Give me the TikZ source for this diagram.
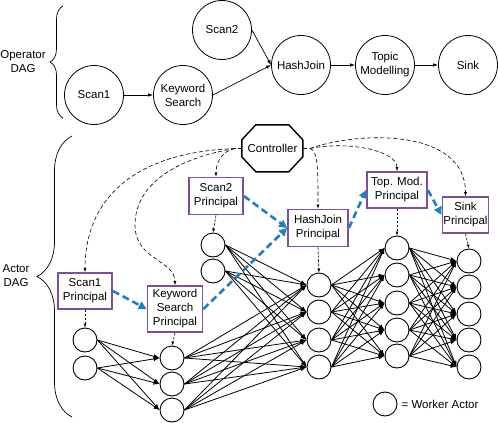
\documentclass[tikz,border=0pt]{standalone}
\usepackage{fontspec}
\setmainfont{Liberation Sans}
\usetikzlibrary{arrows.meta,decorations.pathreplacing,positioning}
\definecolor{principalpurple}{RGB}{128,80,150}
\definecolor{flowblue}{RGB}{28,128,196}
\tikzset{
  opnode/.style={draw, circle, line width=0.8pt, minimum size=59pt, inner sep=0pt, align=center},
  principal/.style={draw=principalpurple, line width=1.8pt, fill=white, align=center, inner sep=1pt},
  worker/.style={draw, circle, line width=0.9pt, minimum size=24pt, inner sep=0pt},
  opedge/.style={line width=0.7pt, -{Latex[length=5pt,width=3.5pt]}},
  wedge/.style={line width=0.8pt, -{Latex[length=6pt,width=4.5pt]}},
  ctrledge/.style={line width=0.6pt, dash pattern=on 4pt off 2.5pt, -{Latex[length=4pt,width=3pt]}},
  assign/.style={line width=0.6pt, dash pattern=on 2.5pt off 1.5pt, -{Latex[length=4pt,width=3pt]}},
  flow/.style={draw=flowblue, line width=2.6pt, dash pattern=on 7pt off 4pt, -{Triangle[length=8pt,width=8pt]}}
}

\begin{document}
\begin{tikzpicture}[x=1pt, y=-1pt, font=\fontsize{11.5}{14}\selectfont]
    \useasboundingbox (0,0) rectangle (498,423);
    \node [opnode] (scanA) at (94,95) {Scan1};
    \node [opnode] (kws) at (183,95) {Keyword\\Search};
    \node [opnode] (scanB) at (222,30) {Scan2};
    \node [opnode] (hj) at (301,65) {HashJoin};
    \node [opnode] (topic) at (385,65) {Topic\\Modelling};
    \node [opnode] (sink) at (468,65) {Sink};
    \draw [opedge] (scanA) -- (kws);
    \draw [opedge] (kws.east) -- (hj.west);
    \draw [opedge] (scanB.east) -- (hj.west);
    \draw [opedge] (hj) -- (topic);
    \draw [opedge] (topic) -- (sink);
    \draw [line width=0.7pt, decorate, decoration={brace, amplitude=13pt}] (63,118) -- (63,6);
    \draw [line width=0.7pt, decorate, decoration={brace, amplitude=35pt}] (72,417) -- (72,136);
    \node [align=center] (oplabel) at (23,62) {Operator\\DAG};
    \node [align=center] (aclabel) at (16,276) {Actor\\DAG};
    \node [minimum width=61pt, minimum height=47pt, inner sep=0pt] (ctrl) at (272.5,148.5) {Controller};
    \draw [line width=1.4pt] (ctrl.north west) ++(14,0) -- ++(33,0) -- ++(14,15) -- ++(0,17) -- ++(-14,15) -- ++(-33,0) -- ++(-14,-15) -- ++(0,-17) -- cycle;
    \coordinate (cw) at (235,148.5);
    \coordinate (ce) at (310,148.5);
    \coordinate (kwsbend) at (135,225);
    \draw [line width=0.6pt, dash pattern=on 4pt off 2.5pt] (ctrl.west) -- (cw);
    \draw [line width=0.6pt, dash pattern=on 4pt off 2.5pt] (ctrl.east) -- (ce);
    \foreach \y [count=\i] in {340,368}
        \node [worker] (wa\i) at (85,\y) {};
    \foreach \y [count=\i] in {358,384,410}
        \node [worker] (wk\i) at (172,\y) {};
    \foreach \y [count=\i] in {245,271}
        \node [worker] (wb\i) at (213,\y) {};
    \foreach \y [count=\i] in {285,312,340,367}
        \node [worker] (wh\i) at (319,\y) {};
    \foreach \y [count=\i] in {248,275,303,330,356}
        \node [worker] (wt\i) at (397,\y) {};
    \foreach \y [count=\i] in {261,287,314,340,367}
        \node [worker] (ws\i) at (469,\y) {};
    \foreach \i in {1,2}
        \foreach \j in {1,2,3}
            \draw [wedge] (wa\i.east) -- (wk\j.west);
    \foreach \i in {1,2,3}
        \foreach \j in {1,...,4}
            \draw [wedge] (wk\i.east) -- (wh\j.west);
    \foreach \i in {1,2}
        \foreach \j in {1,...,4}
            \draw [wedge] (wb\i.east) -- (wh\j.west);
    \foreach \i in {1,...,4}
        \foreach \j in {1,...,5}
            \draw [wedge] (wh\i.east) -- (wt\j.west);
    \foreach \i in {1,...,5}
        \foreach \j in {1,...,5}
            \draw [wedge] (wt\i.east) -- (ws\j.west);
    \node [principal, minimum width=54pt, minimum height=36pt] (pscanA) at (85,291) {Scan1\\Principal};
    \node [principal, minimum width=55pt, minimum height=46pt] (pkws) at (175,309) {Keyword\\Search\\Principal};
    \node [principal, minimum width=54pt, minimum height=37pt] (pscanB) at (216,196) {Scan2\\Principal};
    \node [principal, minimum width=60pt, minimum height=37pt] (phj) at (318,228) {HashJoin\\Principal};
    \node [principal, minimum width=60pt, minimum height=36pt] (ptopic) at (397,190) {Top. Mod.\\Principal};
    \node [principal, minimum width=45pt, minimum height=36pt] (psink) at (465.5,215) {Sink\\Principal};
    \draw [assign] (pscanA.south) -- (wa1.north);
    \draw [assign] (pkws.south) -- (wk1.north);
    \draw [assign] (pscanB.south) -- (wb1.north);
    \draw [assign] (phj.south) -- (wh1.north);
    \draw [assign] (ptopic.south) -- (wt1.north);
    \draw [assign] (psink.south) -- (ws1.north);
    \draw [ctrledge] (cw) .. controls +(-105,4) and +(0,-70) .. (pscanA.north);
    \draw [ctrledge] (cw) .. controls +(-60,10) and +(0,-40) .. (kwsbend) .. controls +(0,35) and +(0,-25) .. (pkws.north);
    \draw [ctrledge] (cw) .. controls +(-15,3) and +(0,-12) .. (pscanB.north);
    \draw [ctrledge] (ce) .. controls +(8,2) and +(0,-40) .. (phj.north);
    \draw [ctrledge] (ce) .. controls +(40,-8) and +(0,-20) .. (ptopic.north);
    \draw [ctrledge] (ce) .. controls +(51,-18) and +(0,-67) .. (psink.north);
    \draw [flow] (pscanA.east) -- (pkws.west);
    \draw [flow] (pkws.east) -- (phj.west);
    \draw [flow] (pscanB.east) -- (phj.west);
    \draw [flow] (phj.east) -- (ptopic.west);
    \draw [flow] (ptopic.east) -- (psink.west);
    \node [worker] (legendw) at (385,404) {};
    \node [right=4pt of legendw, inner sep=0pt] (legendt) {= Worker Actor};
\end{tikzpicture}
\end{document}
